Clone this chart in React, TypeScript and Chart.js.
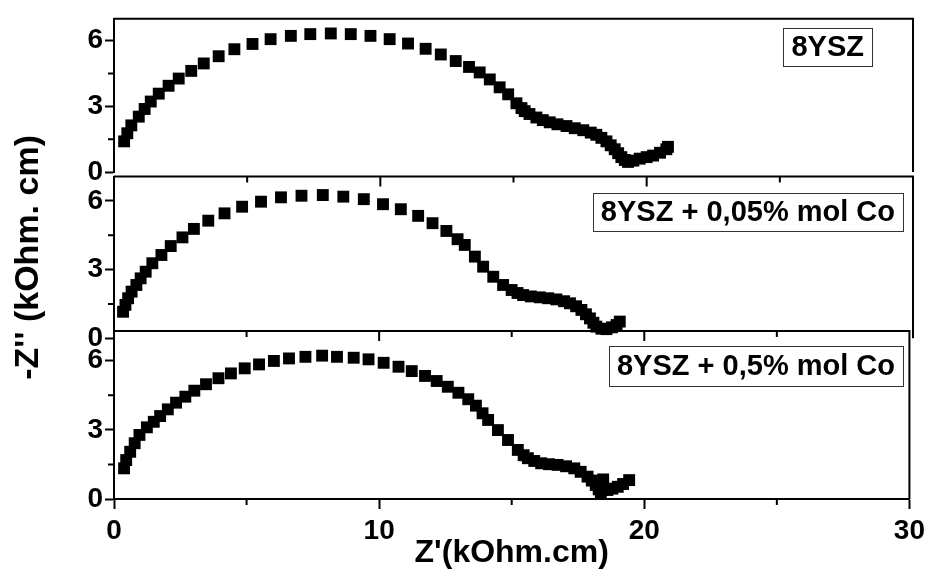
import React, { useEffect, useRef } from "react";
import { Chart, registerables } from "chart.js";

Chart.register(...registerables);

const panelLabels = ["8YSZ", "8YSZ + 0,05% mol Co", "8YSZ + 0,5% mol Co"];
const xTitle = "Z'(kOhm.cm)";
const yTitle = "-Z'' (kOhm. cm)";
const xMajorTicks = [0, 10, 20, 30];
const xMinorTicks = [5, 15, 25];
const yMajorTicks = [0, 3, 6];
const yMinorTicks = [1.5, 4.5];

// 8YSZ
const zRe8YSZ = [0.38, 0.5, 0.65, 0.93, 1.15, 1.38, 1.68, 2.05, 2.43, 2.9, 3.37, 3.93, 4.52, 5.2, 5.88, 6.64, 7.37, 8.14, 8.89, 9.63, 10.35, 11.04, 11.7, 12.27, 12.83, 13.33, 13.73, 14.11, 14.48, 14.8, 15.11, 15.3, 15.42, 15.6, 15.86, 16.1, 16.36, 16.65, 16.99, 17.3, 17.62, 17.9, 18.11, 18.3, 18.49, 18.65, 18.8, 18.93, 19.05, 19.18, 19.3, 19.5, 19.74, 20.0, 20.24, 20.5, 20.74, 20.8];
const zIm8YSZ = [1.4, 1.77, 2.13, 2.53, 2.88, 3.22, 3.58, 3.94, 4.27, 4.62, 4.96, 5.29, 5.61, 5.85, 6.07, 6.22, 6.3, 6.33, 6.3, 6.22, 6.07, 5.87, 5.63, 5.37, 5.07, 4.8, 4.55, 4.23, 3.87, 3.55, 3.14, 2.92, 2.78, 2.65, 2.49, 2.37, 2.27, 2.18, 2.1, 2.0, 1.91, 1.8, 1.7, 1.56, 1.4, 1.22, 1.04, 0.86, 0.68, 0.55, 0.46, 0.52, 0.61, 0.68, 0.75, 0.88, 1.04, 1.15];

// 8YSZ + 0,05% mol Co
const zRe005Co = [0.34, 0.43, 0.53, 0.66, 0.84, 1.0, 1.19, 1.44, 1.78, 2.13, 2.57, 3.0, 3.54, 4.15, 4.81, 5.52, 6.27, 7.04, 7.84, 8.61, 9.38, 10.1, 10.77, 11.42, 11.96, 12.48, 12.9, 13.17, 13.55, 13.86, 14.24, 14.61, 14.93, 15.15, 15.36, 15.65, 15.99, 16.3, 16.61, 16.9, 17.12, 17.35, 17.55, 17.72, 17.87, 18.0, 18.11, 18.3, 18.49, 18.7, 18.87, 18.99];
const zIm005Co = [1.16, 1.46, 1.75, 2.04, 2.33, 2.62, 2.91, 3.28, 3.64, 4.03, 4.41, 4.78, 5.14, 5.46, 5.75, 5.97, 6.16, 6.23, 6.26, 6.19, 6.08, 5.86, 5.64, 5.35, 5.03, 4.69, 4.33, 4.08, 3.57, 3.13, 2.69, 2.33, 2.11, 1.98, 1.89, 1.83, 1.79, 1.75, 1.7, 1.62, 1.53, 1.4, 1.24, 1.05, 0.87, 0.68, 0.51, 0.42, 0.4, 0.48, 0.58, 0.73];

// 8YSZ + 0,5% mol Co
const zRe05Co = [0.38, 0.46, 0.61, 0.78, 0.96, 1.24, 1.5, 1.74, 2.03, 2.34, 2.69, 3.03, 3.47, 3.94, 4.41, 4.93, 5.47, 6.03, 6.6, 7.22, 7.85, 8.41, 9.04, 9.6, 10.17, 10.73, 11.23, 11.73, 12.17, 12.59, 12.99, 13.36, 13.65, 13.9, 14.11, 14.48, 14.86, 15.23, 15.45, 15.61, 15.85, 16.11, 16.4, 16.73, 17.05, 17.36, 17.6, 17.86, 18.02, 18.17, 18.28, 18.36, 18.4, 18.45, 18.61, 18.8, 19.0, 19.2, 19.43];
const zIm05Co = [1.33, 1.69, 2.05, 2.42, 2.78, 3.11, 3.35, 3.6, 3.89, 4.18, 4.44, 4.7, 4.98, 5.24, 5.45, 5.67, 5.84, 5.99, 6.1, 6.17, 6.22, 6.17, 6.13, 6.06, 5.91, 5.74, 5.55, 5.34, 5.12, 4.87, 4.61, 4.33, 4.05, 3.72, 3.43, 2.99, 2.56, 2.13, 1.9, 1.77, 1.65, 1.55, 1.51, 1.48, 1.42, 1.33, 1.18, 0.97, 0.8, 0.61, 0.42, 0.27, 0.55, 0.85, 0.39, 0.45, 0.53, 0.65, 0.82];

const FONT = "'Liberation Sans', Arial, Helvetica, sans-serif";
const W = 930;
const H = 583;
const LEFT = 114;
const RIGHT_PAD = 17;

type PanelCfg = {
  xs: number[];
  ys: number[];
  label: string;
  top: number;
  bottom: number;
  yMax: number;
  boxRight: number;
  boxTop: number;
  boxBottom: number;
  topTicks: boolean;
  isBottom: boolean;
  showYTitle: boolean;
};

const panels: PanelCfg[] = [
  { xs: zRe8YSZ, ys: zIm8YSZ, label: panelLabels[0], top: 11, bottom: 172, yMax: 7.0, boxRight: 872, boxTop: 28, boxBottom: 66, topTicks: false, isBottom: false, showYTitle: false },
  { xs: zRe005Co, ys: zIm005Co, label: panelLabels[1], top: 176.5, bottom: 338.3, yMax: 7.07, boxRight: 903, boxTop: 193, boxBottom: 231, topTicks: true, isBottom: false, showYTitle: true },
  { xs: zRe05Co, ys: zIm05Co, label: panelLabels[2], top: 331, bottom: 499, yMax: 7.29, boxRight: 903, boxTop: 346, boxBottom: 386, topTicks: true, isBottom: true, showYTitle: false },
];

const framePlugin = {
  id: "frame",
  afterDraw(chart: any, _args: any, opts: any) {
    const { ctx, chartArea } = chart;
    const { left, right, top, bottom } = chartArea;
    const xs = chart.scales.x;
    const ys = chart.scales.y;
    ctx.save();
    ctx.strokeStyle = "#000";
    ctx.lineWidth = 2;
    ctx.beginPath();
    ctx.moveTo(left, top);
    ctx.lineTo(right, top);
    ctx.lineTo(right, bottom);
    ctx.stroke();

    ctx.beginPath();
    yMinorTicks.forEach((v) => {
      const py = ys.getPixelForValue(v);
      ctx.moveTo(left - 6, py);
      ctx.lineTo(left, py);
    });
    if (opts.topTicks) {
      xMajorTicks.forEach((v) => {
        if (v <= xs.min || v >= xs.max) return;
        const px = xs.getPixelForValue(v);
        ctx.moveTo(px, top);
        ctx.lineTo(px, top + 10);
      });
      xMinorTicks.forEach((v) => {
        const px = xs.getPixelForValue(v);
        ctx.moveTo(px, top);
        ctx.lineTo(px, top + 6);
      });
    }
    if (opts.isBottom) {
      xMinorTicks.forEach((v) => {
        const px = xs.getPixelForValue(v);
        ctx.moveTo(px, bottom);
        ctx.lineTo(px, bottom + 6);
      });
    }
    ctx.stroke();

    // label box
    ctx.font = `bold 29px ${FONT}`;
    const tw = ctx.measureText(opts.label).width;
    const bw = tw + 16;
    const bx = opts.boxRight - bw;
    ctx.lineWidth = 1;
    ctx.strokeStyle = "#333";
    ctx.fillStyle = "#fff";
    ctx.fillRect(bx, opts.boxTop, bw, opts.boxBottom - opts.boxTop);
    ctx.strokeRect(Math.round(bx) + 0.5, opts.boxTop + 0.5, Math.round(bw), opts.boxBottom - opts.boxTop);
    ctx.fillStyle = "#000";
    ctx.textAlign = "center";
    ctx.textBaseline = "middle";
    ctx.fillText(opts.label, bx + bw / 2, (opts.boxTop + opts.boxBottom) / 2 + 1);
    ctx.restore();
  },
};

function makeChart(canvas: HTMLCanvasElement, p: PanelCfg) {
  const data = p.xs.map((x, i) => ({ x, y: p.ys[i] }));
  const tickFont = { family: FONT, size: 28, weight: "bold" as const };
  return new Chart(canvas, {
    type: "scatter",
    data: {
      datasets: [
        {
          data,
          showLine: false,
          pointStyle: "rect",
          pointRadius: 8.4,
          pointHoverRadius: 8.4,
          pointBorderWidth: 0,
          pointBackgroundColor: "#000",
          pointBorderColor: "#000",
          clip: false as any,
        },
      ],
    },
    options: {
      responsive: false,
      animation: false,
      events: [],
      devicePixelRatio: 1,
      layout: {
        padding: {
          left: 0,
          right: RIGHT_PAD,
          top: p.top,
          bottom: p.isBottom ? 0 : H - p.bottom,
        },
      },
      plugins: {
        legend: { display: false },
        tooltip: { enabled: false },
        frame: {
          label: p.label,
          boxRight: p.boxRight,
          boxTop: p.boxTop,
          boxBottom: p.boxBottom,
          topTicks: p.topTicks,
          isBottom: p.isBottom,
        },
      } as any,
      scales: {
        x: {
          type: "linear",
          display: p.isBottom,
          min: 0,
          max: 30,
          afterBuildTicks: (s: any) => {
            s.ticks = xMajorTicks.map((v) => ({ value: v }));
          },
          afterFit: (s: any) => {
            if (p.isBottom) s.height = H - p.bottom;
          },
          ticks: {
            font: tickFont,
            color: "#000",
            padding: 5,
            maxRotation: 0,
            autoSkip: false,
            callback: (v: any) => String(v),
          },
          grid: {
            drawOnChartArea: false,
            drawTicks: true,
            tickLength: 10,
            tickWidth: 2,
            tickColor: "#000",
          },
          border: { display: true, color: "#000", width: 2 },
          title: {
            display: true,
            text: xTitle,
            color: "#000",
            font: { family: FONT, size: 32, weight: "bold" },
            padding: { top: 0, bottom: 11 },
          },
        },
        y: {
          type: "linear",
          min: 0,
          max: p.yMax,
          afterBuildTicks: (s: any) => {
            s.ticks = yMajorTicks.map((v) => ({ value: v }));
          },
          afterFit: (s: any) => {
            s.width = LEFT;
          },
          ticks: {
            font: tickFont,
            color: "#000",
            padding: 2,
            callback: (v: any) => String(v),
          },
          grid: {
            drawOnChartArea: false,
            drawTicks: true,
            tickLength: 9,
            tickWidth: 2,
            tickColor: "#000",
          },
          border: { display: true, color: "#000", width: 2 },
          title: {
            display: p.showYTitle,
            text: yTitle,
            color: "#000",
            font: { family: FONT, size: 34, weight: "bold" },
            padding: { top: 8, bottom: 0 },
          },
        },
      },
    },
    plugins: [framePlugin as any],
  });
}

export default function App() {
  const r0 = useRef<HTMLCanvasElement>(null);
  const r1 = useRef<HTMLCanvasElement>(null);
  const r2 = useRef<HTMLCanvasElement>(null);

  useEffect(() => {
    const refs = [r0, r1, r2];
    const charts = refs.map((r, i) => makeChart(r.current as HTMLCanvasElement, panels[i]));
    return () => charts.forEach((c) => c.destroy());
  }, []);

  const style: React.CSSProperties = { position: "absolute", left: 0, top: 0 };
  return (
    <div style={{ position: "absolute", left: 0, top: 0, width: W, height: H, background: "#fff" }}>
      <canvas ref={r0} width={W} height={H} style={style} />
      <canvas ref={r1} width={W} height={H} style={style} />
      <canvas ref={r2} width={W} height={H} style={style} />
    </div>
  );
}
